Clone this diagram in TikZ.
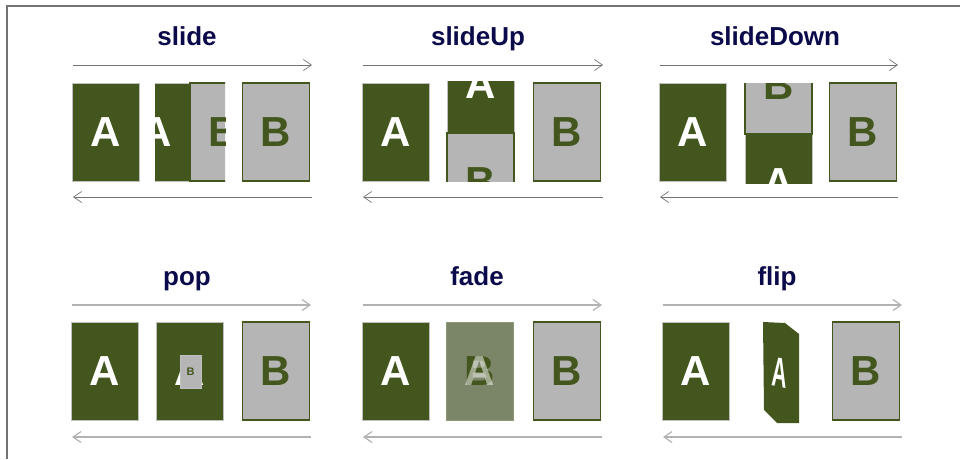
\documentclass[tikz,border=0pt]{standalone}
\usepackage{fontspec}
\setmainfont{Liberation Sans}
\usetikzlibrary{arrows.meta}
\definecolor{leaf}{HTML}{43561D}
\definecolor{sheet}{HTML}{B5B5B5}
\definecolor{heading}{HTML}{0B0B4B}
\newcommand{\bigletter}{\fontsize{42}{42}\selectfont\bfseries}
\newcommand{\tinyletter}{\fontsize{11}{11}\selectfont\bfseries}

\begin{document}
\begin{tikzpicture}[x=1pt, y=-1pt,
                page a/.style={fill=leaf, draw=black!25, line width=0.6pt,
                    minimum width=67pt, minimum height=98pt, inner sep=0pt,
                    text=white, font=\bigletter},
                page b/.style={fill=sheet, draw=leaf, line width=1.4pt,
                    minimum width=67pt, minimum height=98pt, inner sep=0pt,
                    text=leaf, font=\bigletter},
                title/.style={anchor=base, text=heading,
                    font=\fontsize{26}{26}\selectfont\bfseries},
                flow/.style={draw=black!55, line width=0.7pt,
                    -{Straight Barb[length=8pt, width=11pt]}},
                flow light/.style={flow, draw=black!30, line width=1.2pt}
            ]
            \useasboundingbox (0,0) rectangle (960,459);
            \draw[black!55, line width=1.5pt] (7,459) -- (7,6) -- (960,6);

            % slide
            \node[title] (tslide) at (187,45) {slide};
            \coordinate (s1) at (73,65);  \coordinate (s2) at (312,65);
            \coordinate (s3) at (312,197); \coordinate (s4) at (73,197);
            \draw[flow] (s1) -- (s2);
            \draw[flow] (s3) -- (s4);
            \node[page a] (slideA) at (106,132) {A};
            \node[page b] (slideB) at (276,132) {B};
            \begin{scope}
                \clip (155,80) rectangle (190,184);
                \node[page a] (slideMA) at (156.5,132) {A};
            \end{scope}
            \begin{scope}
                \clip (189,80) rectangle (225,184);
                \node[page b] (slideMB) at (223.5,132) {B};
            \end{scope}

            % slideUp
            \node[title] (tup) at (478,45) {slideUp};
            \coordinate (u1) at (363,65);  \coordinate (u2) at (603,65);
            \coordinate (u3) at (603,197); \coordinate (u4) at (363,197);
            \draw[flow] (u1) -- (u2);
            \draw[flow] (u3) -- (u4);
            \node[page a] (upA) at (396,132) {A};
            \node[page b] (upB) at (567,132) {B};
            \begin{scope}
                \clip (440,81) rectangle (520,133);
                \node[page a] (upMA) at (480.5,84) {A};
            \end{scope}
            \begin{scope}
                \clip (440,132) rectangle (520,181.5);
                \node[page b] (upMB) at (480.5,182) {B};
            \end{scope}

            % slideDown
            \node[title] (tdown) at (775,45) {slideDown};
            \coordinate (d1) at (660,65);  \coordinate (d2) at (898,65);
            \coordinate (d3) at (898,197); \coordinate (d4) at (660,197);
            \draw[flow] (d1) -- (d2);
            \draw[flow] (d3) -- (d4);
            \node[page a] (downA) at (693,132) {A};
            \node[page b] (downB) at (863,132) {B};
            \begin{scope}
                \clip (738,134) rectangle (818,183.5);
                \node[page a] (downMA) at (778.5,183) {A};
            \end{scope}
            \begin{scope}
                \clip (738,83) rectangle (818,135);
                \node[page b] (downMB) at (778.5,85) {B};
            \end{scope}

            % pop
            \node[title] (tpop) at (187,285) {pop};
            \coordinate (p1) at (72,305);  \coordinate (p2) at (311,305);
            \coordinate (p3) at (311,437); \coordinate (p4) at (72,437);
            \draw[flow light] (p1) -- (p2);
            \draw[flow light] (p3) -- (p4);
            \node[page a] (popA) at (105,371) {A};
            \node[page b] (popB) at (276,371) {B};
            \node[page a] (popMA) at (190,371) {A};
            \node[fill=sheet, draw=black!25, line width=0.5pt, minimum width=21pt,
                minimum height=33pt, inner sep=0pt, text=leaf, font=\tinyletter]
                (popMB) at (190.5,371.5) {B};

            % fade
            \node[title] (tfade) at (477,285) {fade};
            \coordinate (f1) at (363,305);  \coordinate (f2) at (602,305);
            \coordinate (f3) at (602,437); \coordinate (f4) at (363,437);
            \draw[flow light] (f1) -- (f2);
            \draw[flow light] (f3) -- (f4);
            \node[page a] (fadeA) at (396,371) {A};
            \node[page b] (fadeB) at (567,371) {B};
            \node[page b, draw=none] (fadeMB) at (480,371) {B};
            \node[page a, draw=leaf!60!white, fill opacity=0.5, text opacity=0.5]
                (fadeMA) at (480,371) {A};

            % flip
            \node[title] (tflip) at (777,285) {flip};
            \coordinate (l1) at (663,305);  \coordinate (l2) at (902,305);
            \coordinate (l3) at (902,437); \coordinate (l4) at (663,437);
            \draw[flow light] (l1) -- (l2);
            \draw[flow light] (l3) -- (l4);
            \node[page a] (flipA) at (696,371) {A};
            \node[page b] (flipB) at (866,371) {B};
            \fill[leaf] (763,322) -- (785,323) -- (799,334) -- (799,423)
                -- (777,423) -- (764,410) -- cycle;
            \node[text=white, font=\bigletter, xscale=0.5, rotate=-6]
                (flipMA) at (780,373) {A};
        \end{tikzpicture}
\end{document}
